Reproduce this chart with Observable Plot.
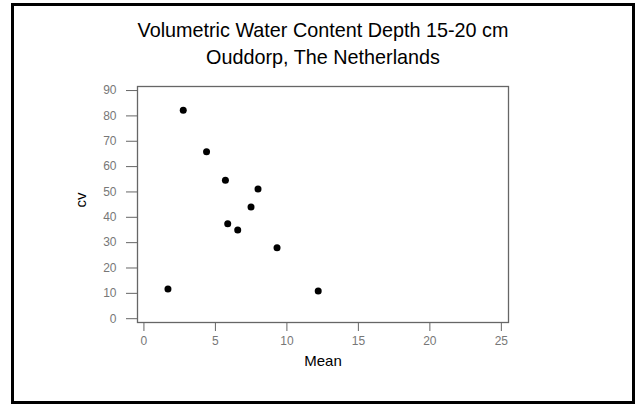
<!DOCTYPE html>
<html>
<head>
<meta charset="utf-8">
<script src="https://cdn.jsdelivr.net/npm/d3@7"></script>
<script src="https://cdn.jsdelivr.net/npm/@observablehq/plot@0.6"></script>
<style>
  html, body { margin: 0; padding: 0; background: #fff; }
  #wrap { position: relative; width: 637px; height: 405px; overflow: hidden; }
  #border { position: absolute; left: 11px; top: 3px; width: 624px; height: 401px; border: 3px solid #000; box-sizing: border-box; pointer-events: none; }
</style>
</head>
<body>
<div id="wrap"><div id="border"></div></div>
<script>
const titleLines = ["Volumetric Water Content Depth 15-20 cm", "Ouddorp, The Netherlands"];
const xLabel = "Mean";
const yLabel = "cv";
const meanValues = [2.75, 4.38, 5.70, 7.98, 7.49, 5.86, 6.56, 9.31, 1.68, 12.19];
const cvValues   = [82.2, 65.9, 54.6, 51.2, 44.1, 37.5, 35.0, 28.0, 11.7, 10.9];
const xTicks = [0, 5, 10, 15, 20, 25];
const yTicks = [0, 10, 20, 30, 40, 50, 60, 70, 80, 90];

const points = meanValues.map((m, i) => ({mean: m, cv: cvValues[i]}));
const font = "'Liberation Sans', Arial, sans-serif";

const chart = Plot.plot({
  width: 637,
  height: 405,
  marginLeft: 137,
  marginRight: 129,
  marginTop: 86,
  marginBottom: 83,
  style: {fontFamily: font, background: "transparent", overflow: "visible"},
  x: {domain: [-0.45, 25.5], ticks: xTicks, label: null},
  y: {domain: [-1.5, 91.6], ticks: yTicks, label: null},
  marks: [
    Plot.frame({stroke: "#666", strokeWidth: 1.3}),
    Plot.axisX({ticks: xTicks, tickSize: 9, tickPadding: 5, fontSize: 12, fill: "#777", stroke: "#666", label: null}),
    Plot.axisY({ticks: yTicks, tickSize: 11, tickPadding: 10, fontSize: 12, fill: "#777", stroke: "#666", label: null}),
    Plot.dot(points, {x: "mean", y: "cv", r: 3.5, fill: "#000", stroke: "none"}),
    Plot.text([titleLines[0]], {frameAnchor: "top", lineAnchor: "middle", dy: -56, fontSize: 19.8, fill: "#000"}),
    Plot.text([titleLines[1]], {frameAnchor: "top", lineAnchor: "middle", dy: -29, fontSize: 19.8, fill: "#000"}),
    Plot.text([xLabel], {frameAnchor: "bottom", lineAnchor: "middle", dy: 39, fontSize: 15, fill: "#000"}),
    Plot.text([yLabel], {frameAnchor: "left", lineAnchor: "middle", dx: -56, dy: 3, rotate: -90, fontSize: 15, fill: "#000"})
  ]
});
document.getElementById("wrap").prepend(chart);
</script>
</body>
</html>
